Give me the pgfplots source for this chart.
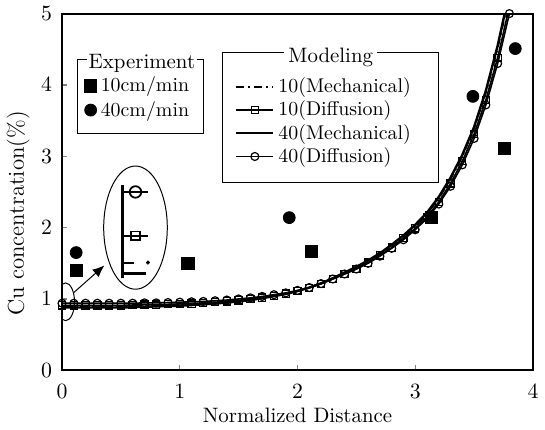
\documentclass[border=0pt]{standalone}
\usepackage{pgfplots}
\usepackage{pgfplotstable}
\pgfplotsset{compat=1.18}
\usetikzlibrary{arrows.meta}
\pgfplotsset{markleg/.style={legend image code/.code={\draw[##1] plot coordinates {(0pt,0pt)};}},
  lineleg/.style={legend image code/.code={\draw[mark repeat=2,mark phase=2,##1] plot coordinates {(0pt,0pt) (9.25pt,0pt) (18.5pt,0pt)};}}}
\pgfplotstableread{
x    m10    d10    m40    d40
0.0  0.90   0.91   0.88   0.94
0.1  0.90   0.91   0.88   0.94
0.2  0.90   0.91   0.88   0.94
0.3  0.90   0.91   0.88   0.94
0.4  0.90   0.91   0.88   0.94
0.5  0.90   0.91   0.88   0.94
0.6  0.905  0.915  0.885  0.94
0.7  0.91   0.92   0.89   0.945
0.8  0.915  0.92   0.895  0.945
0.9  0.92   0.925  0.90   0.95
1.0  0.925  0.93   0.905  0.955
1.1  0.93   0.935  0.915  0.96
1.2  0.94   0.945  0.925  0.965
1.3  0.95   0.955  0.935  0.975
1.4  0.965  0.965  0.95   0.985
1.5  0.98   0.98   0.965  1.00
1.6  1.00   1.00   0.985  1.015
1.7  1.02   1.02   1.01   1.035
1.8  1.045  1.045  1.04   1.06
1.9  1.075  1.075  1.07   1.085
2.0  1.11   1.11   1.11   1.12
2.1  1.16   1.155  1.16   1.16
2.2  1.22   1.21   1.22   1.215
2.3  1.29   1.28   1.29   1.28
2.4  1.36   1.35   1.37   1.35
2.5  1.44   1.42   1.45   1.42
2.6  1.53   1.51   1.54   1.50
2.7  1.63   1.61   1.64   1.60
2.8  1.75   1.72   1.76   1.71
2.9  1.88   1.85   1.89   1.83
3.0  2.02   1.99   2.04   1.97
3.1  2.19   2.15   2.21   2.13
3.2  2.41   2.36   2.43   2.33
3.3  2.68   2.62   2.70   2.58
3.4  3.00   2.93   3.02   2.88
3.5  3.39   3.31   3.41   3.25
3.6  3.89   3.79   3.92   3.72
3.7  4.51   4.38   4.55   4.30
3.8  5.25   5.10   5.30   5.00
}\model
\begin{document}
\begin{tikzpicture}[font=\fontsize{10.5}{12.5}\selectfont]
\begin{axis}[
  width=237pt, height=179.5pt, scale only axis,
  xmin=0, xmax=4, ymin=0, ymax=5,
  xtick={0,1,2,3,4}, ytick={0,1,2,3,4,5},
  tick align=inside, xtick pos=bottom, ytick pos=left,
  major tick length=2.5pt,
  axis line style={line width=0.9pt},
  tick style={line width=0.6pt},
  xticklabel style={yshift=-3.5pt},
  yticklabel style={xshift=-1.5pt},
  xlabel={Normalized Distance},
  xlabel style={yshift=2pt},
  ylabel={\fontsize{11.5}{13}\selectfont Cu concentration(\%)},
  ylabel style={at={(ticklabel cs:0.44)}, yshift=-1pt},
  lineleg,
  legend style={name=modleg, at={(axis cs:1.367,4.245)}, anchor=north west,
    draw=none, fill=none, inner ysep=3pt, inner xsep=6pt, row sep=-1.3pt,
    font=\fontsize{10}{12}\selectfont},
  legend cell align=left,
]
\addplot[black, line width=0.9pt, dash pattern=on 4pt off 2pt on 1pt off 2pt] table[x=x,y=m10] {\model};
\addlegendentry{10(Mechanical)}
\addplot[black, line width=0.8pt, mark=square, mark size=1.8pt, mark options={solid, line width=0.6pt}] table[x=x,y=d10] {\model};
\addlegendentry{10(Diffusion)}
\addplot[black, line width=1.2pt] table[x=x,y=m40] {\model};
\addlegendentry{40(Mechanical)}
\addplot[black, line width=0.8pt, mark=o, mark size=2pt, mark options={solid, line width=0.6pt}] table[x=x,y=d40] {\model};
\addlegendentry{40(Diffusion)}
% inset illustration
\addplot[black, line width=1.6pt, forget plot] coordinates {(0.515,1.30) (0.515,2.60)};
\addplot[black, line width=1pt, mark=o, mark size=2.9pt, mark indices={2}, mark options={line width=0.9pt}, forget plot] coordinates {(0.515,2.50) (0.624,2.50) (0.734,2.50)};
\addplot[black, line width=1pt, mark=square, mark size=2.2pt, mark indices={2}, mark options={line width=0.9pt}, forget plot] coordinates {(0.515,1.885) (0.624,1.885) (0.734,1.885)};
\addplot[black, line width=1pt, forget plot] coordinates {(0.515,1.51) (0.61,1.51)};
\addplot[black, only marks, mark=*, mark size=0.8pt, forget plot] coordinates {(0.73,1.51)};
\addplot[black, line width=1.3pt, forget plot] coordinates {(0.515,1.355) (0.71,1.355)};
\draw[line width=0.5pt] (axis cs:0.624,2.0) ellipse [x radius=16pt, y radius=31pt];
\draw[line width=0.5pt] (axis cs:0.03,0.96) ellipse [x radius=4.5pt, y radius=9.5pt];
\draw[line width=0.5pt, -{Latex[length=6pt,width=5pt]}] (axis cs:0.10,1.09) -- (axis cs:0.36,1.47);
\end{axis}
\begin{axis}[
  width=237pt, height=179.5pt, scale only axis,
  xmin=0, xmax=4, ymin=0, ymax=5, hide axis,
  legend style={name=expleg, at={(axis cs:0.13,4.258)}, anchor=north west,
    draw=none, fill=none, inner ysep=3pt, inner xsep=3.4pt, row sep=-0.8pt,
    font=\fontsize{10}{12}\selectfont},
  legend cell align=left,
]
\addplot[black, only marks, mark=square*, mark size=3.1pt, markleg]
  coordinates {(0.12,1.40) (1.07,1.50) (2.12,1.67) (3.14,2.14) (3.76,3.11)};
\addlegendentry{10cm/min}
\addplot[black, only marks, mark=*, mark size=3pt, markleg]
  coordinates {(0.12,1.65) (1.93,2.14) (3.49,3.84) (3.85,4.51)};
\addlegendentry{40cm/min}
\end{axis}
\draw[line width=0.5pt] ([yshift=7.5pt]modleg.north west) rectangle ([xshift=108.5pt, yshift=-3.5pt]modleg.south west);
\node[fill=white, inner xsep=2pt, inner ysep=0pt] at ([xshift=54.25pt, yshift=5pt]modleg.north west) {Modeling};
\draw[line width=0.5pt] ([yshift=3.5pt]expleg.north west) rectangle ([xshift=63.5pt, yshift=-2pt]expleg.south west);
\node[fill=white, inner xsep=1pt, inner ysep=0pt] at ([xshift=32.5pt, yshift=1.75pt]expleg.north west) {Experiment};
\end{tikzpicture}
\end{document}
